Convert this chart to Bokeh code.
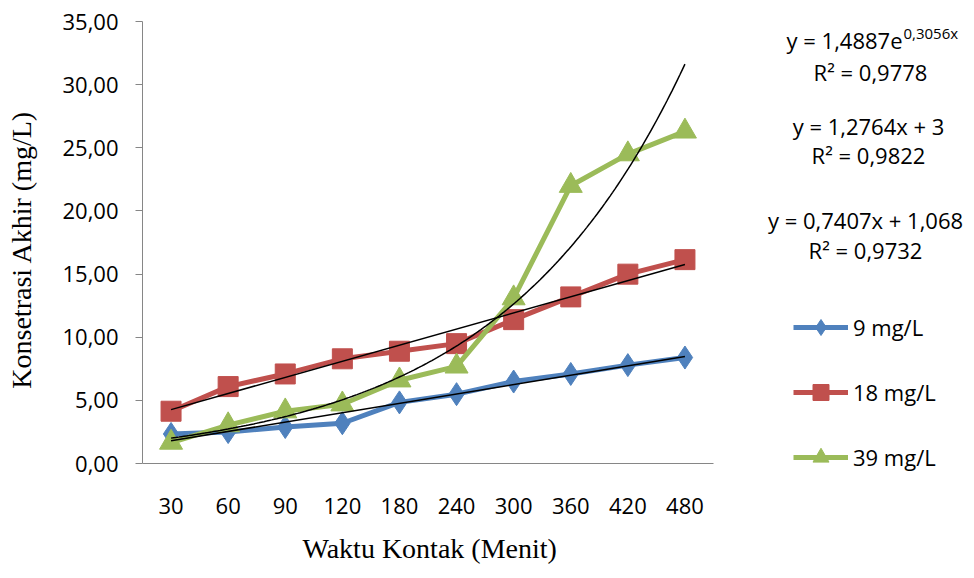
import numpy as np
from bokeh.plotting import figure
from bokeh.models import (Range1d, FixedTicker, Legend, LegendItem, Label, LinearAxis, Title)
from bokeh.embed import file_html
from bokeh.resources import INLINE

# ---- data ----
categories = ["30", "60", "90", "120", "180", "240", "300", "360", "420", "480"]
x_pos = list(range(1, 11))
s9 = [2.35, 2.5, 2.9, 3.2, 4.85, 5.5, 6.5, 7.1, 7.8, 8.4]
s18 = [4.15, 6.1, 7.1, 8.3, 8.9, 9.5, 11.4, 13.2, 15.0, 16.15]
s39 = [1.67, 3.05, 4.15, 4.7, 6.6, 7.7, 13.1, 22.0, 24.5, 26.3]
y_ticks = [0, 5, 10, 15, 20, 25, 30, 35]
y_tick_labels = ["0,00", "5,00", "10,00", "15,00", "20,00", "25,00", "30,00", "35,00"]
series_names = ["9 mg/L", "18 mg/L", "39 mg/L"]

# trendline parameters (from the equations shown on the chart)
exp_a, exp_b = 1.4887, 0.3056
lin18_m, lin18_c = 1.2764, 3.0
lin9_m, lin9_c = 0.7407, 1.068

BLUE, RED, GREEN = "#4F81BD", "#C0504D", "#9BBB59"
FONT = "Open Sans"
SERIF = "Liberation Serif"

# ---- layout geometry (pixels) ----
W, H = 970, 577
FL, FT = 142, 21          # frame left / top
AX_R, AX_B = 713, 468     # where the category axis ends / where y = 0 sits
FB = 482                  # frame bottom (a little below y=0 so the legend fits)
x_lo, x_hi_axis = 0.5, len(categories) + 0.5
y_top = 35
px_per_x = (AX_R - FL) / (x_hi_axis - x_lo)
px_per_y = (AX_B - FT) / y_top
x_hi_view = x_lo + (W - FL) / px_per_x
y_lo_view = -(FB - AX_B) / px_per_y

p = figure(width=W, height=H, output_backend="svg", toolbar_location=None,
           x_range=Range1d(x_lo, x_hi_view), y_range=Range1d(y_lo_view, y_top),
           min_border_left=FL, min_border_right=0, min_border_top=FT,
           min_border_bottom=H - FB)
p.outline_line_color = None
p.xgrid.visible = False
p.ygrid.visible = False

# y axis
p.yaxis.bounds = (0, y_top)
p.yaxis.ticker = FixedTicker(ticks=y_ticks)
p.yaxis.major_label_overrides = {t: l for t, l in zip(y_ticks, y_tick_labels)}
p.yaxis.minor_tick_line_color = None
p.yaxis.major_tick_out = 7
p.yaxis.major_tick_in = 0
p.yaxis.axis_line_color = "#868686"
p.yaxis.major_tick_line_color = "#868686"
p.yaxis.major_label_text_font = FONT
p.yaxis.major_label_text_font_size = "22px"
p.yaxis.major_label_text_color = "black"
p.yaxis.major_label_standoff = 17
p.yaxis.axis_label = "Konsetrasi Akhir (mg/L)"
p.yaxis.axis_label_text_font = SERIF
p.yaxis.axis_label_text_font_size = "28px"
p.yaxis.axis_label_text_font_style = "normal"
p.yaxis.axis_label_text_color = "black"
p.yaxis.axis_label_standoff = 22

# x axis (tick labels only; sits at the frame bottom)
p.xaxis.bounds = (x_lo, x_hi_axis)
p.xaxis.ticker = FixedTicker(ticks=x_pos)
p.xaxis.major_label_overrides = {x: c for x, c in zip(x_pos, categories)}
p.xaxis.minor_tick_line_color = None
p.xaxis.major_tick_line_color = None
p.xaxis.major_tick_out = 0
p.xaxis.major_tick_in = 0
p.xaxis.axis_line_color = None
p.xaxis.major_label_text_font = FONT
p.xaxis.major_label_text_font_size = "22px"
p.xaxis.major_label_text_color = "black"
p.xaxis.major_label_standoff = 20

# x axis title, centred under the category span
p.add_layout(Title(text="Waktu Kontak (Menit)", align="left", offset=160, standoff=28,
                   text_font=SERIF, text_font_size="28px", text_font_style="normal",
                   text_color="black"), "below")

# x axis line at y = 0 over the category span
base_axis = LinearAxis(fixed_location=0, bounds=(x_lo, x_hi_axis),
                       ticker=FixedTicker(ticks=[]),
                       axis_line_color="#868686", major_tick_line_color=None,
                       minor_tick_line_color=None, major_label_text_color=None,
                       major_tick_out=0, major_tick_in=0, major_label_standoff=0)
p.add_layout(base_axis, "above")

# series
l9 = p.line(x_pos, s9, line_color=BLUE, line_width=5)
m9 = p.scatter(x_pos, s9, marker="diamond", size=23, color=BLUE)
l18 = p.line(x_pos, s18, line_color=RED, line_width=5)
m18 = p.scatter(x_pos, s18, marker="square", size=20, color=RED)
l39 = p.line(x_pos, s39, line_color=GREEN, line_width=5)
m39 = p.scatter(x_pos, s39, marker="triangle", size=23, color=GREEN)

# trendlines
xt = np.linspace(1, 10, 200)
p.line(xt, exp_a * np.exp(exp_b * xt), line_color="black", line_width=1.5)
p.line([1, 10], [lin18_m * 1 + lin18_c, lin18_m * 10 + lin18_c], line_color="black", line_width=1.5)
p.line([1, 10], [lin9_m * 1 + lin9_c, lin9_m * 10 + lin9_c], line_color="black", line_width=1.5)

legend = Legend(items=[
    LegendItem(label=series_names[0], renderers=[l9, m9]),
    LegendItem(label=series_names[1], renderers=[l18, m18]),
    LegendItem(label=series_names[2], renderers=[l39, m39]),
], location=(793 - FL, 0))
legend.border_line_color = None
legend.background_fill_alpha = 0
legend.padding = 0
legend.margin = 0
legend.glyph_width = 55
legend.glyph_height = 40
legend.label_height = 40
legend.spacing = 25
legend.label_standoff = 5
legend.label_text_font = FONT
legend.label_text_font_size = "22px"
legend.label_text_color = "black"
p.add_layout(legend, "center")

# equation labels (screen units: from frame left, from frame bottom)
def lab(text, px, py, size="22px", align="center"):
    p.add_layout(Label(x=px - FL, y=FB - py, x_units="screen", y_units="screen", text=text,
                       text_font=FONT, text_font_size=size, text_align=align,
                       text_baseline="middle", text_color="black"))

lab("y = 1,4887e", 902, 44, align="right")
lab("0,3056x", 903, 37, size="15px", align="left")
lab("R² = 0,9778", 870, 76)
lab("y = 1,2764x + 3", 868, 130)
lab("R² = 0,9822", 868, 159)
lab("y = 0,7407x + 1,068", 865, 224)
lab("R² = 0,9732", 865, 254)

open("out.html", "w").write(file_html(p, INLINE))
